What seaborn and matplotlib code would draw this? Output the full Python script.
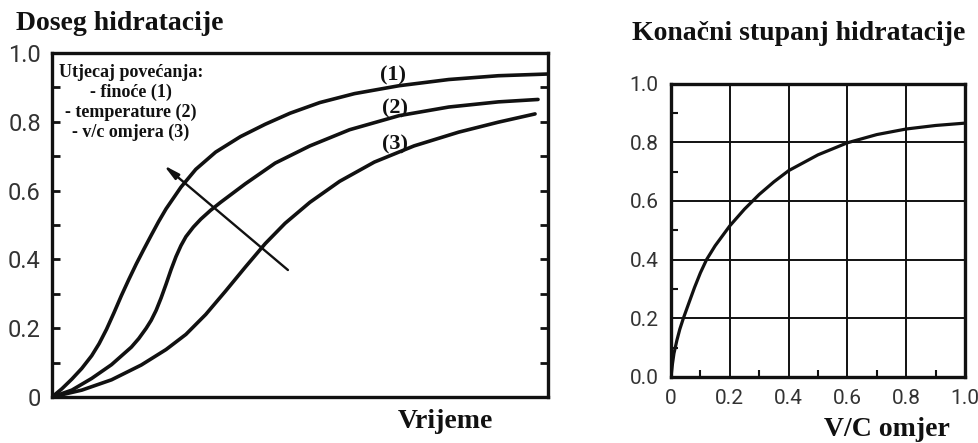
import numpy as np
import pandas as pd
import matplotlib
matplotlib.use("Agg")
import matplotlib.pyplot as plt
import seaborn as sns

sns.set_style("white")
plt.rcParams["font.family"] = ["Roboto", "DejaVu Sans"]

# krivulje dosega hidratacije (vrijeme normirano 0..1)
c1_x = [0, 0.02, 0.04, 0.06, 0.08, 0.095, 0.11, 0.125, 0.14, 0.155, 0.17, 0.185, 0.20, 0.215, 0.23, 0.26, 0.29, 0.33, 0.38, 0.43, 0.48, 0.54, 0.61, 0.70, 0.80, 0.90, 1.0]
c1_y = [0, 0.024, 0.052, 0.083, 0.12, 0.155, 0.197, 0.245, 0.295, 0.342, 0.387, 0.429, 0.47, 0.51, 0.547, 0.61, 0.662, 0.712, 0.757, 0.793, 0.825, 0.856, 0.882, 0.905, 0.923, 0.934, 0.939]
c2_x = [0, 0.04, 0.08, 0.12, 0.16, 0.175, 0.19, 0.20, 0.21, 0.22, 0.23, 0.24, 0.25, 0.26, 0.27, 0.285, 0.30, 0.32, 0.34, 0.39, 0.45, 0.52, 0.60, 0.70, 0.80, 0.90, 0.98]
c2_y = [0, 0.02, 0.054, 0.094, 0.145, 0.17, 0.20, 0.223, 0.252, 0.288, 0.328, 0.37, 0.408, 0.44, 0.466, 0.494, 0.517, 0.543, 0.566, 0.62, 0.68, 0.73, 0.777, 0.818, 0.843, 0.858, 0.865]
c3_x = [0, 0.06, 0.12, 0.18, 0.23, 0.27, 0.31, 0.35, 0.39, 0.43, 0.47, 0.52, 0.58, 0.65, 0.73, 0.82, 0.90, 0.974]
c3_y = [0, 0.02, 0.05, 0.093, 0.138, 0.182, 0.24, 0.308, 0.378, 0.446, 0.505, 0.566, 0.627, 0.683, 0.73, 0.77, 0.799, 0.823]

# konačni stupanj hidratacije u ovisnosti o v/c omjeru
vc = [0, 0.005, 0.01, 0.02, 0.03, 0.042, 0.06, 0.08, 0.1, 0.121, 0.15, 0.2, 0.25, 0.3, 0.35, 0.4, 0.5, 0.6, 0.7, 0.8, 0.9, 1.0]
alpha_max = [0, 0.045, 0.08, 0.125, 0.163, 0.2, 0.25, 0.305, 0.355, 0.4, 0.447, 0.515, 0.572, 0.622, 0.665, 0.703, 0.757, 0.798, 0.826, 0.845, 0.857, 0.865]

curve_labels = ["(1)", "(2)", "(3)"]
note_lines = ["Utjecaj povećanja:", "- finoće (1)", "- temperature (2)", "- v/c omjera (3)"]
ylabels_left = ["0", "0.2", "0.4", "0.6", "0.8", "1.0"]
ylabels_right = ["0.0", "0.2", "0.4", "0.6", "0.8", "1.0"]
xlabels_right = ["0", "0.2", "0.4", "0.6", "0.8", "1.0"]

ink = "#111111"
tick_col = "#333333"
serif = ["Liberation Serif", "DejaVu Serif"]

fig = plt.figure(figsize=(9.79, 4.43), dpi=100)
ax1 = fig.add_axes([0.0531, 0.1038, 0.5066, 0.7765])
ax2 = fig.add_axes([0.6854, 0.149, 0.3003, 0.6625])

#%% lijevi graf
for xs, ys in [(c1_x, c1_y), (c2_x, c2_y), (c3_x, c3_y)]:
    df = pd.DataFrame({"x": xs, "y": ys})
    sns.lineplot(data=df, x="x", y="y", ax=ax1, color=ink, linewidth=2.6, sort=False,
                 solid_joinstyle="round", solid_capstyle="round")

ax1.set_xlim(0, 1)
ax1.set_ylim(0, 1)
ax1.set_xticks([])
ax1.set_yticks(np.linspace(0, 1, 6))
ax1.set_yticklabels(ylabels_left, fontsize=17, color=tick_col)
ax1.set_yticks(np.linspace(0.1, 0.9, 5), minor=True)
ax1.tick_params(axis="y", which="both", direction="in", length=6, width=2, color=ink,
                left=True, right=True, pad=8)
ax1.set_xlabel("")
ax1.set_ylabel("")
for s in ax1.spines.values():
    s.set_linewidth(2.4)
    s.set_color(ink)

ax1.annotate("", xy=(0.221, 0.679), xytext=(0.480, 0.364),
             arrowprops=dict(arrowstyle="-|>,head_length=0.9,head_width=0.2",
                             color=ink, lw=1.7))

for lab, (lx, ly) in zip(curve_labels, [(0.688, 0.936), (0.692, 0.839), (0.692, 0.733)]):
    ax1.text(lx, ly, lab, ha="center", va="center", fontsize=16, fontweight="bold",
             family=serif, color=ink)

for line, ly in zip(note_lines, [0.942, 0.887, 0.828, 0.770]):
    ax1.text(0.159, ly, line, ha="center", va="center", fontsize=13, fontweight="bold",
             family=serif, color=ink)

#%% desni graf
df_vc = pd.DataFrame({"vc": vc, "alpha": alpha_max})
sns.lineplot(data=df_vc, x="vc", y="alpha", ax=ax2, color=ink, linewidth=2.3,
             solid_joinstyle="round")
ax2.set_xlim(0, 1)
ax2.set_ylim(0, 1)
ax2.set_xticks(np.linspace(0, 1, 6))
ax2.set_xticklabels(xlabels_right, fontsize=15, color=tick_col)
ax2.set_yticks(np.linspace(0, 1, 6))
ax2.set_yticklabels(ylabels_right, fontsize=15, color=tick_col)
ax2.set_xticks(np.linspace(0.1, 0.9, 5), minor=True)
ax2.set_yticks(np.linspace(0.1, 0.9, 5), minor=True)
ax2.tick_params(which="major", length=0, pad=9)
ax2.tick_params(which="minor", direction="in", length=5, width=1.5, color=ink,
                left=True, bottom=True)
ax2.grid(True, which="major", color=ink, linewidth=1.4)
ax2.set_xlabel("")
ax2.set_ylabel("")
for s in ax2.spines.values():
    s.set_linewidth(2.4)
    s.set_color(ink)

#%% naslovi
fig.text(16 / 979, 1 - 23 / 443, "Doseg hidratacije", ha="left", va="center",
         fontsize=20, fontweight="bold", family=serif, color=ink)
fig.text(632 / 979, 1 - 33 / 443, "Konačni stupanj hidratacije", ha="left", va="center",
         fontsize=20, fontweight="bold", family=serif, color=ink)
fig.text(445 / 979, 1 - 422 / 443, "Vrijeme", ha="center", va="center",
         fontsize=20, fontweight="bold", family=serif, color=ink)
fig.text(887 / 979, 1 - 430 / 443, "V/C omjer", ha="center", va="center",
         fontsize=20, fontweight="bold", family=serif, color=ink)

plt.savefig("out.png", dpi=100)
